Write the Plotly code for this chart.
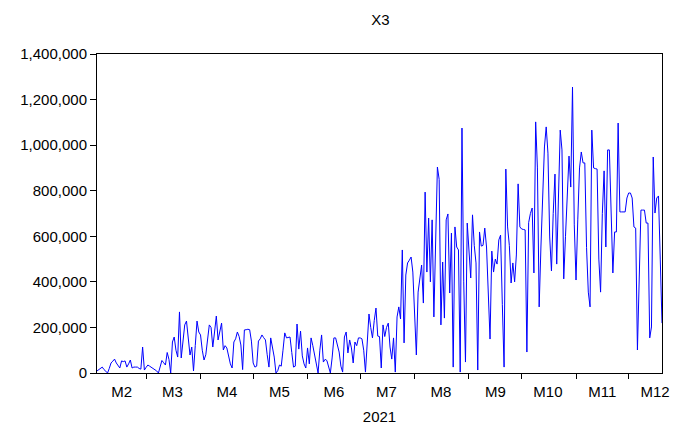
import pandas as pd
import plotly.graph_objects as go

start_date = "2021-02-01"

feb = [9000, 15000, 20000, 26000, 15000, 5000, 0, 20000, 44000, 52000, 61000, 44000, 30000, 22000,
       53000, 50000, 53000, 26000, 40000, 57000, 22000, 26000, 26000, 26000, 20000, 17000, 114000, 13000]
mar = [25000, 35000, 30000, 25000, 22000, 15000, 9000, 0, 30000, 55000, 45000, 35000, 90000, 60000,
       0, 136000, 158000, 100000, 70000, 268000, 66000, 140000, 211000, 228000, 150000, 79000, 114000,
       9000, 120000, 228000, 180000]
apr = [167000, 100000, 57000, 80000, 150000, 211000, 200000, 114000, 180000, 250000, 145000, 180000,
       219000, 101000, 120000, 110000, 70000, 40000, 22000, 136000, 150000, 180000, 160000, 123000,
       15000, 189000, 190000, 192000, 190000, 140000]
may = [44000, 26000, 30000, 140000, 150000, 167000, 155000, 145000, 80000, 26000, 154000, 110000,
       70000, 0, 10000, 35000, 30000, 100000, 176000, 154000, 156000, 158000, 90000, 26000, 30000,
       215000, 105000, 184000, 75000, 40000, 22000]
jun = [110000, 40000, 154000, 120000, 80000, 40000, 0, 100000, 167000, 48000, 60000, 55000, 26000, 0,
       66000, 154000, 154000, 120000, 92000, 30000, 4000, 158000, 180000, 88000, 145000, 110000, 44000,
       136000, 120000, 154000]
jul = [154000, 150000, 100000, 4000, 150000, 259000, 200000, 154000, 230000, 285000, 162000, 160000,
       22000, 211000, 160000, 200000, 219000, 114000, 61000, 154000, 4000, 246000, 290000, 237000,
       540000, 132000, 430000, 483000, 495000, 509000, 443000]
aug = [290000, 79000, 355000, 420000, 474000, 307000, 794000, 443000, 680000, 400000, 672000, 246000,
       600000, 904000, 850000, 211000, 487000, 241000, 672000, 698000, 351000, 614000, 26000, 641000,
       553000, 540000, 4000, 1075000, 400000, 48000, 658000]
sep = [550000, 417000, 694000, 560000, 483000, 13000, 619000, 557000, 560000, 636000, 553000, 350000,
       149000, 535000, 443000, 500000, 478000, 584000, 605000, 300000, 26000, 895000, 641000, 560000,
       395000, 483000, 400000, 518000, 830000, 641000]
oct_ = [632000, 630000, 628000, 92000, 660000, 700000, 724000, 439000, 1102000, 900000, 290000, 553000,
        800000, 992000, 1080000, 965000, 597000, 448000, 700000, 873000, 478000, 800000, 1066000,
        979000, 413000, 600000, 800000, 952000, 816000, 1255000, 650000]
nov = [408000, 672000, 900000, 970000, 922000, 922000, 550000, 355000, 290000, 1066000, 900000, 897000,
       895000, 500000, 355000, 700000, 887000, 553000, 979000, 979000, 700000, 439000, 619000, 619000,
       1097000, 707000, 707000, 707000, 707000, 768000]
dec = [790000, 790000, 768000, 641000, 636000, 101000, 400000, 715000, 715000, 715000, 658000, 658000,
       154000, 202000, 948000, 702000, 768000, 777000, 500000, 219000]

values = feb + mar + apr + may + jun + jul + aug + sep + oct_ + nov + dec
dates = pd.date_range(start_date, periods=len(values), freq="D")

month_labels = ["M2", "M3", "M4", "M5", "M6", "M7", "M8", "M9", "M10", "M11", "M12"]
label_dates = ["2021-02-15", "2021-03-16", "2021-04-16", "2021-05-16", "2021-06-16", "2021-07-16",
               "2021-08-16", "2021-09-16", "2021-10-16", "2021-11-16", "2021-12-16"]
month_starts = ["2021-03-01", "2021-04-01", "2021-05-01", "2021-06-01", "2021-07-01", "2021-08-01",
                "2021-09-01", "2021-10-01", "2021-11-01", "2021-12-01"]
y_ticks = [0, 200000, 400000, 600000, 800000, 1000000, 1200000, 1400000]

fig = go.Figure()
fig.add_trace(go.Scatter(x=dates, y=values, mode="lines",
                         line=dict(color="#0000FF", width=1), hoverinfo="skip"))

font_family = "Liberation Sans, Arial, sans-serif"
fig.update_layout(
    width=681, height=425,
    margin=dict(l=89, r=27, t=46, b=60),
    paper_bgcolor="white", plot_bgcolor="white",
    showlegend=False,
    font=dict(family=font_family, size=15, color="black"),
    title=dict(text="X3", x=0.547, xanchor="center", y=0.972, yanchor="middle",
               font=dict(size=15, color="black")),
)
fig.update_xaxes(
    type="date",
    range=[dates[0], dates[-1]],
    automargin=False,
    tickmode="array", tickvals=label_dates, ticktext=month_labels,
    ticks="outside", ticklen=5, tickcolor="rgba(255,255,255,0)",
    showgrid=False, zeroline=False,
    showline=True, mirror=True, linecolor="black", linewidth=1,
    tickfont=dict(size=15),
    minor=dict(tickmode="array", tickvals=month_starts, ticks="outside",
               ticklen=5, tickcolor="black", showgrid=False),
    title=dict(text="2021", font=dict(size=15), standoff=12),
)
fig.update_yaxes(
    range=[0, 1400000],
    automargin=False,
    tickmode="array", tickvals=y_ticks, tickformat=",",
    ticks="outside", ticklen=6, tickcolor="black",
    showgrid=False, zeroline=False,
    showline=True, mirror=True, linecolor="black", linewidth=1,
    tickfont=dict(size=15),
)

fig.write_html("out.html")
